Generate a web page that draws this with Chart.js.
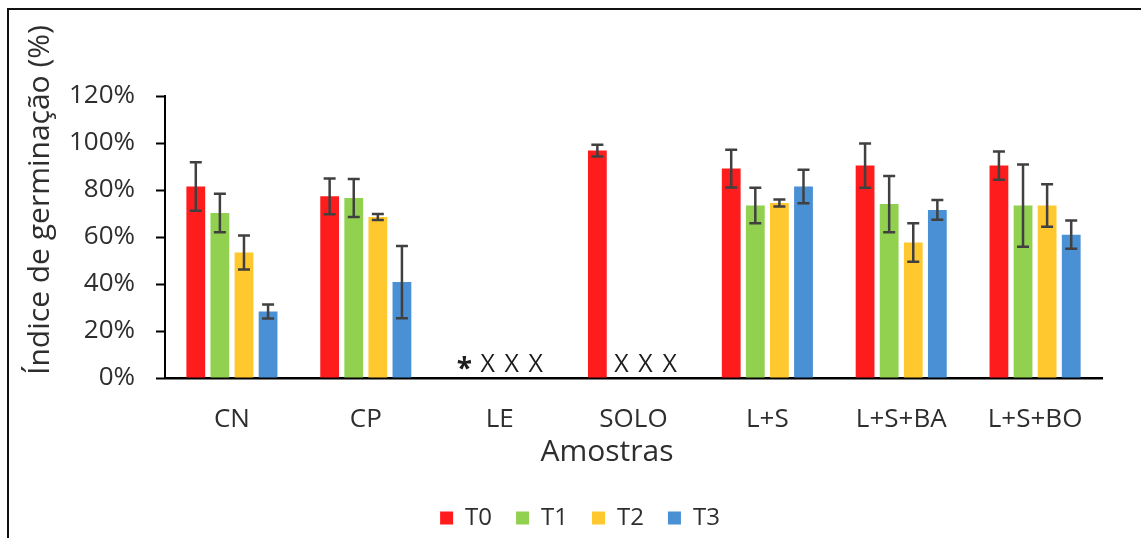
<!DOCTYPE html>
<html><head><meta charset="utf-8">
<script src="https://cdn.jsdelivr.net/npm/chart.js@4.4.1/dist/chart.umd.min.js"></script>
<style>html,body{margin:0;padding:0;background:#fff;} canvas{display:block;}</style>
</head><body>
<canvas id="c" width="1141" height="538"></canvas>
<script>
// ---- data ----
const categories = ['CN', 'CP', 'LE', 'SOLO', 'L+S', 'L+S+BA', 'L+S+BO'];
const seriesNames = ['T0', 'T1', 'T2', 'T3'];
const t0 = [81.5, 77.3, 0, 96.8, 89.1, 90.4, 90.4];
const t1 = [70.2, 76.6, 0, 0, 73.4, 74.0, 73.4];
const t2 = [53.4, 68.5, 0, 0, 74.5, 57.7, 73.4];
const t3 = [28.3, 40.8, 0, 0, 81.5, 71.5, 61.0];
const t0Err = [10.3, 7.6, 0, 2.5, 8.0, 9.4, 6.0];
const t1Err = [8.2, 8.1, 0, 0, 7.6, 12.0, 17.5];
const t2Err = [7.2, 1.3, 0, 0, 1.5, 8.2, 9.0];
const t3Err = [3.0, 15.4, 0, 0, 7.1, 4.2, 6.0];
const t0Marks = ['', '', '*', '', '', '', ''];
const t1Marks = ['', '', 'X', 'X', '', '', ''];
const t2Marks = ['', '', 'X', 'X', '', '', ''];
const t3Marks = ['', '', 'X', 'X', '', '', ''];
const yTicks = [0, 20, 40, 60, 80, 100, 120];
const xTitle = 'Amostras';
const yTitle = 'Índice de germinação (%)';

const colors = ['#FF1C1C', '#92D050', '#FFC82E', '#4A90D4'];
const FONT = "'Open Sans', sans-serif";
const TEXT = '#2e2e2e';

const values = [t0, t1, t2, t3];
const errors = [t0Err, t1Err, t2Err, t3Err];
const marks = [t0Marks, t1Marks, t2Marks, t3Marks];

Chart.defaults.font.family = FONT;
Chart.defaults.color = TEXT;

const framePlugin = {
  id: 'frame',
  afterLayout(chart) {
    const lg = chart.legend;
    if (lg) { lg.left += 29; lg.right += 29; lg.top += 2; lg.bottom += 2; }
  },
  beforeDraw(chart) {
    const ctx = chart.ctx;
    ctx.save();
    ctx.fillStyle = '#fff';
    ctx.fillRect(0, 0, chart.width, chart.height);
    ctx.fillStyle = '#111';
    ctx.fillRect(7, 8, chart.width - 7, 2);
    ctx.fillRect(7, 8, 2, chart.height - 8);
    ctx.restore();
  }
};

const errorBarPlugin = {
  id: 'errorBars',
  afterDatasetsDraw(chart) {
    const ctx = chart.ctx;
    const y = chart.scales.y;
    ctx.save();
    ctx.strokeStyle = '#404040';
    ctx.lineWidth = 2.5;
    chart.data.datasets.forEach((ds, i) => {
      const meta = chart.getDatasetMeta(i);
      meta.data.forEach((bar, j) => {
        const e = errors[i][j];
        if (!e) return;
        const v = ds.data[j];
        const yt = y.getPixelForValue(v + e);
        const yb = y.getPixelForValue(v - e);
        const x = bar.x;
        ctx.beginPath();
        ctx.moveTo(x, yt); ctx.lineTo(x, yb);
        ctx.moveTo(x - 6, yt); ctx.lineTo(x + 6, yt);
        ctx.moveTo(x - 6, yb); ctx.lineTo(x + 6, yb);
        ctx.stroke();
      });
    });
    ctx.restore();
  }
};

const marksPlugin = {
  id: 'marks',
  afterDatasetsDraw(chart) {
    const ctx = chart.ctx;
    const y0 = chart.scales.y.getPixelForValue(0);
    ctx.save();
    ctx.fillStyle = '#1e1e1e';
    ctx.textAlign = 'center';
    ctx.textBaseline = 'alphabetic';
    chart.data.datasets.forEach((ds, i) => {
      const meta = chart.getDatasetMeta(i);
      meta.data.forEach((bar, j) => {
        const m = marks[i][j];
        if (!m) return;
        if (m === '*') {
          ctx.font = "bold 28px " + FONT;
          ctx.fillText(m, bar.x + 1, y0);
        } else {
          ctx.font = "25px " + FONT;
          ctx.fillText(m, bar.x, y0 - 6);
        }
      });
    });
    ctx.restore();
  }
};

const titlesPlugin = {
  id: 'titles',
  afterDraw(chart) {
    const ctx = chart.ctx;
    ctx.save();
    ctx.fillStyle = TEXT;
    ctx.font = "30px " + FONT;
    ctx.textAlign = 'center';
    ctx.textBaseline = 'middle';
    ctx.fillText(xTitle, 607, 452);
    ctx.translate(40, 200);
    ctx.rotate(-Math.PI / 2);
    ctx.fillText(yTitle, 0, 0);
    ctx.restore();
  }
};

new Chart(document.getElementById('c'), {
  type: 'bar',
  data: {
    labels: categories,
    datasets: seriesNames.map((n, i) => ({
      label: n,
      data: values[i],
      backgroundColor: colors[i],
      borderWidth: 0,
      categoryPercentage: 0.72,
      barPercentage: 0.78
    }))
  },
  options: {
    responsive: false,
    animation: false,
    devicePixelRatio: 1,
    layout: { padding: { left: 0, right: 39, top: 96, bottom: 0 } },
    plugins: {
      tooltip: { enabled: false },
      legend: {
        position: 'bottom',
        labels: {
          font: { size: 24, family: FONT },
          color: TEXT,
          boxWidth: 13,
          boxHeight: 13,
          padding: 24
        }
      }
    },
    scales: {
      x: {
        grid: { display: false, drawTicks: false },
        border: { display: true, color: '#000', width: 2.5 },
        ticks: { font: { size: 26 }, color: TEXT, padding: 26, maxRotation: 0 },
        afterFit(scale) { scale.height = 538 - 378 - 58; }
      },
      y: {
        min: 0, max: 120,
        afterBuildTicks(scale) { scale.ticks = yTicks.map(v => ({ value: v })); },
        grid: { display: true, drawOnChartArea: false, drawTicks: true, tickLength: 9, tickColor: '#000', tickWidth: 2 },
        border: { display: true, color: '#000', width: 2 },
        ticks: { font: { size: 26 }, color: TEXT, padding: 21, callback: v => v + '%' },
        afterFit(scale) { scale.width = 165; }
      }
    }
  },
  plugins: [framePlugin, errorBarPlugin, marksPlugin, titlesPlugin]
});
</script>
</body></html>
